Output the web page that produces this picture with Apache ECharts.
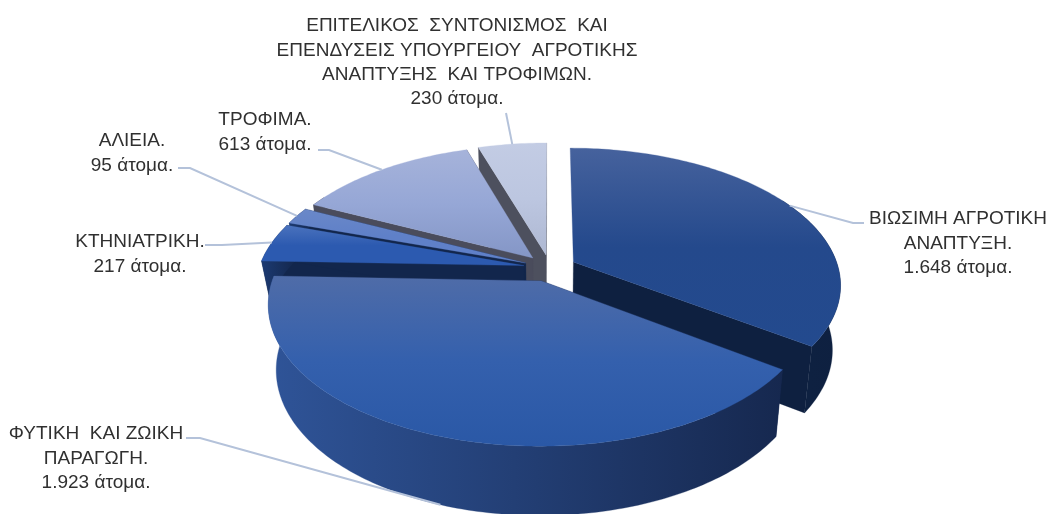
<!DOCTYPE html>
<html><head><meta charset="utf-8">
<style>html,body{margin:0;padding:0;background:#fff}#c{width:1054px;height:514px}</style>
<script src="https://cdn.jsdelivr.net/npm/echarts@6/dist/echarts.min.js"></script>
</head><body><div id="c"></div>
<script>
const categories = ['ΒΙΩΣΙΜΗ ΑΓΡΟΤΙΚΗ\nΑΝΑΠΤΥΞΗ.','ΦΥΤΙΚΗ  ΚΑΙ ΖΩΙΚΗ\nΠΑΡΑΓΩΓΗ.','ΚΤΗΝΙΑΤΡΙΚΗ.','ΑΛΙΕΙΑ.','ΤΡΟΦΙΜΑ.','ΕΠΙΤΕΛΙΚΟΣ  ΣΥΝΤΟΝΙΣΜΟΣ  ΚΑΙ\nΕΠΕΝΔΥΣΕΙΣ ΥΠΟΥΡΓΕΙΟΥ  ΑΓΡΟΤΙΚΗΣ\nΑΝΑΠΤΥΞΗΣ  ΚΑΙ ΤΡΟΦΙΜΩΝ.'];
const values = [1648,1923,217,95,613,230];
const valueLabels = ['1.648 άτομα.','1.923 άτομα.','217 άτομα.','95 άτομα.','613 άτομα.','230 άτομα.'];
const topColors = [['#46629d','#24498c','#234a8e'],['#4f6ca8','#3460ad','#2a58a6'],['#4a72bd','#2c5ab0','#2c5ab0'],['#6a88c8','#5f80c8','#5f80c8'],['#a6b3da','#96a7d6','#8496c6'],['#c3cce4','#bcc6e0','#aeb8d2']];
const faceColors = ['#0e2040','#14274f','#12264c','#12264c','#4a4c5c','#4d505e'];
const wallColors = [['#0e2242','#0e2040'],['#2f5498','#16284f'],['#1c3a72','#14284e'],['#1c3a72','#14284e'],['#4a4c5c','#4a4c5c'],['#4d505e','#4d505e']];
const drawOrder = [5,4,3,2,0,1];

// projection of the tilted pie
const CX=550, CY=268, RX=265, RY=134, PERSP=0.1615, EXPLODE=0.1, SHRINK_X=0.972, STRETCH_Y=1.03;
const depths = [64,64,38,38,64,64];
const WALL_FROM=60, WALL_TO=300; // only the front of the rim shows a wall
// label blocks: [centre x, first line centre y], leader elbow points
const labelBox = [[958,218],[96,433],[140,241],[132,140],[265,119],[457,25]];
const elbows = [[[864,223],[853,223]],[[186,438],[200,438]],[[205,245],[222,245]],[[178,168],[190,168]],[[318,150],[329,150]],[[506,113]]];
const LINE_H = 24.4;

const total = values.reduce((a,b)=>a+b,0);
const spans = []; let acc = 0;
values.forEach(v=>{ const s=acc/total*360; acc+=v; spans.push([s,acc/total*360]); });

function proj(u,v){ const w=1+PERSP*v; return [CX+RX*u/w, CY-RY*v/w]; }
function lower(p,d){ return [CX+(p[0]-CX)*SHRINK_X, CY+(p[1]-CY)*STRETCH_Y+d]; }
function rad(d){ return d*Math.PI/180; }

function sliceElements(i){
  const [a0,a1]=spans[i], mid=(a0+a1)/2, d=depths[i];
  const ox=EXPLODE*Math.sin(rad(mid)), oy=EXPLODE*Math.cos(rad(mid));
  const pt=a=>proj(ox+Math.sin(rad(a)),oy+Math.cos(rad(a)));
  const arc=(s,e)=>{ const r=[]; for(let a=s;a<e;a+=1) r.push(pt(a)); r.push(pt(e)); return r; };
  const apex=proj(ox,oy), rim=arc(a0,a1);
  const low=rim.map(p=>lower(p,d)), lapex=lower(apex,d);
  const grad=(cols,h)=>({type:'linear',x:0,y:0,x2:h?1:0,y2:h?0:1,colorStops:cols.map((c,k)=>({offset:k/(cols.length-1),color:c}))});
  const poly=(points,fill)=>({type:'polygon',shape:{points},style:{fill,stroke:fill,lineWidth:0.3},silent:true});
  const els=[];
  if(i!==0) els.push(poly([apex,rim[0],low[0],lapex],faceColors[i]));
  els.push(poly([apex,rim[rim.length-1],low[low.length-1],lapex],faceColors[i]));
  const ws=Math.max(a0,WALL_FROM), we=Math.min(a1,WALL_TO);
  if(we>ws){
    const w=arc(ws,we);
    els.push(poly(w.concat(w.map(p=>lower(p,d)).reverse()),grad(wallColors[i],true)));
  }
  els.push(poly([apex].concat(rim),grad(topColors[i],false)));
  return els;
}
function labelElements(i){
  const [a0,a1]=spans[i], mid=(a0+a1)/2, ex=1+EXPLODE;
  let anchor=proj(ex*Math.sin(rad(mid)),ex*Math.cos(rad(mid)));
  if(i===1) anchor=lower(anchor,depths[i]);
  const line=elbows[i].concat([anchor]);
  const text=categories[i]+'\n'+valueLabels[i];
  return [
    {type:'polyline',shape:{points:line},style:{stroke:'#b4c2da',lineWidth:2,fill:null},silent:true},
    {type:'text',x:labelBox[i][0],y:labelBox[i][1]-LINE_H/2+1,silent:true,
     style:{text,align:'center',verticalAlign:'top',fill:'#303030',lineHeight:LINE_H,
            font:'19px "Liberation Sans", Arial, sans-serif'}}
  ];
}
const chart=echarts.init(document.getElementById('c'));
chart.setOption({
  animation:false,
  backgroundColor:'#ffffff',
  series:[
   {type:'custom',coordinateSystem:'none',silent:true,z:2,
    data:drawOrder.map(i=>({name:categories[i],value:[i,values[i]]})),
    renderItem:(p,api)=>({type:'group',children:sliceElements(api.value(0))})},
   {type:'custom',coordinateSystem:'none',silent:true,z:3,
    data:drawOrder.map(i=>({name:categories[i],value:[i,values[i]]})),
    renderItem:(p,api)=>({type:'group',children:labelElements(api.value(0))})}
  ]
});
</script></body></html>
